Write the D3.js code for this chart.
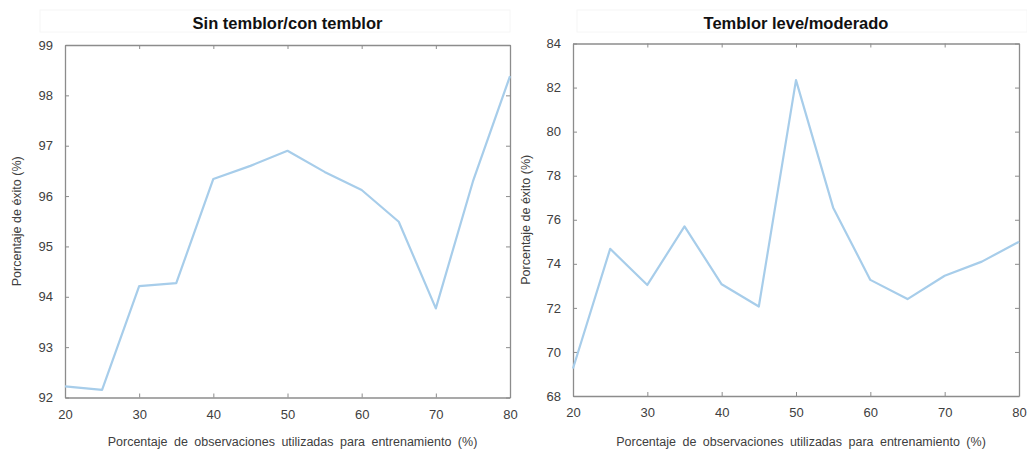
<!DOCTYPE html>
<html>
<head>
<meta charset="utf-8">
<script src="https://cdn.jsdelivr.net/npm/d3@7"></script>
<style>
  html, body { margin: 0; padding: 0; background: #fff; }
  svg { display: block; font-family: "Liberation Sans", Arial, sans-serif; }
</style>
</head>
<body>
<svg id="chart" width="1027" height="450"></svg>
<script>
// Training share (%) on the x axis, shared by both panels
const trainingShare = [20, 25, 30, 35, 40, 45, 50, 55, 60, 65, 70, 75, 80];

// Success rate (%) — no tremor vs. tremor
const successNoVsTremor = [92.22, 92.15, 94.21, 94.27, 96.34, 96.6, 96.9, 96.48, 96.12, 95.49, 93.77, 96.29, 98.38];

// Success rate (%) — mild vs. moderate tremor
const successMildVsModerate = [69.25, 74.68, 73.04, 75.7, 73.07, 72.06, 82.34, 76.55, 73.27, 72.4, 73.46, 74.1, 75.0];

const xTicks = [20, 30, 40, 50, 60, 70, 80];
const yTicksLeft = [92, 93, 94, 95, 96, 97, 98, 99];
const yTicksRight = [68, 70, 72, 74, 76, 78, 80, 82, 84];

const titles = ["Sin temblor/con temblor", "Temblor leve/moderado"];
const xLabel = "Porcentaje de observaciones utilizadas para entrenamiento  (%)";
const yLabel = "Porcentaje de éxito (%)";

const svg = d3.select("#chart");

const panels = [
  { title: titles[0], values: successNoVsTremor, yDomain: [92, 99], yTicks: yTicksLeft,
    left: 65, right: 510, top: 45, bottom: 397.5, yLabelX: 17, titleBox: [40, 510] },
  { title: titles[1], values: successMildVsModerate, yDomain: [68, 84], yTicks: yTicksRight,
    left: 573, right: 1019, top: 43.5, bottom: 396, yLabelX: 526, titleBox: [577, 1027] }
];

const axisColor = "#8c8c8c";
const textColor = "#404040";
const lineColor = "#a7cdea";

panels.forEach(p => {
  const x = d3.scaleLinear().domain([20, 80]).range([p.left, p.right]);
  const y = d3.scaleLinear().domain(p.yDomain).range([p.bottom, p.top]);
  const g = svg.append("g");

  // faint title strip
  g.append("rect")
    .attr("x", p.titleBox[0]).attr("y", 10)
    .attr("width", p.titleBox[1] - p.titleBox[0]).attr("height", 22)
    .attr("fill", "#fff").attr("stroke", "#f6f6f6");

  g.append("text")
    .attr("x", (p.left + p.right) / 2).attr("y", 29)
    .attr("text-anchor", "middle")
    .attr("font-size", 16.5).attr("font-weight", "bold")
    .attr("fill", "#111")
    .text(p.title);

  // axes: ticks point inward on all four sides
  const fmt = d3.format("d");
  const bottomAxis = d3.axisBottom(x).tickValues(xTicks).tickFormat(fmt).tickSizeInner(-4).tickSizeOuter(0).tickPadding(12);
  const topAxis = d3.axisTop(x).tickValues(xTicks).tickSizeInner(-4).tickSizeOuter(0).tickFormat("");
  const leftAxis = d3.axisLeft(y).tickValues(p.yTicks).tickFormat(fmt).tickSizeInner(-4).tickSizeOuter(0).tickPadding(12);
  const rightAxis = d3.axisRight(y).tickValues(p.yTicks).tickSizeInner(-4).tickSizeOuter(0).tickFormat("");

  const styleAxis = sel => {
    sel.select(".domain").attr("stroke", axisColor).attr("stroke-width", 1.3);
    sel.selectAll(".tick line").attr("stroke", axisColor).attr("stroke-width", 1);
    sel.selectAll(".tick text").attr("fill", textColor).attr("font-size", 13)
      .attr("font-family", "Liberation Sans, Arial, sans-serif");
  };

  g.append("g").attr("transform", `translate(0,${p.bottom})`).call(bottomAxis).call(styleAxis);
  g.append("g").attr("transform", `translate(0,${p.top})`).call(topAxis).call(styleAxis);
  g.append("g").attr("transform", `translate(${p.left},0)`).call(leftAxis).call(styleAxis);
  g.append("g").attr("transform", `translate(${p.right},0)`).call(rightAxis).call(styleAxis);

  // data line
  const line = d3.line().x((d, i) => x(trainingShare[i])).y(d => y(d));
  g.append("path")
    .datum(p.values)
    .attr("d", line)
    .attr("fill", "none")
    .attr("stroke", lineColor)
    .attr("stroke-width", 2.2)
    .attr("stroke-linejoin", "round");

  // axis titles
  g.append("text")
    .attr("x", (p.left + p.right) / 2 + 5).attr("y", 446)
    .attr("text-anchor", "middle")
    .attr("font-size", 12.5).attr("fill", textColor)
    .attr("word-spacing", 3)
    .text(xLabel);

  g.append("text")
    .attr("transform", `translate(${p.yLabelX},${(p.top + p.bottom) / 2}) rotate(-90)`)
    .attr("text-anchor", "middle")
    .attr("dy", "0.35em")
    .attr("font-size", 12.5).attr("fill", textColor)
    .text(yLabel);
});
</script>
</body>
</html>
